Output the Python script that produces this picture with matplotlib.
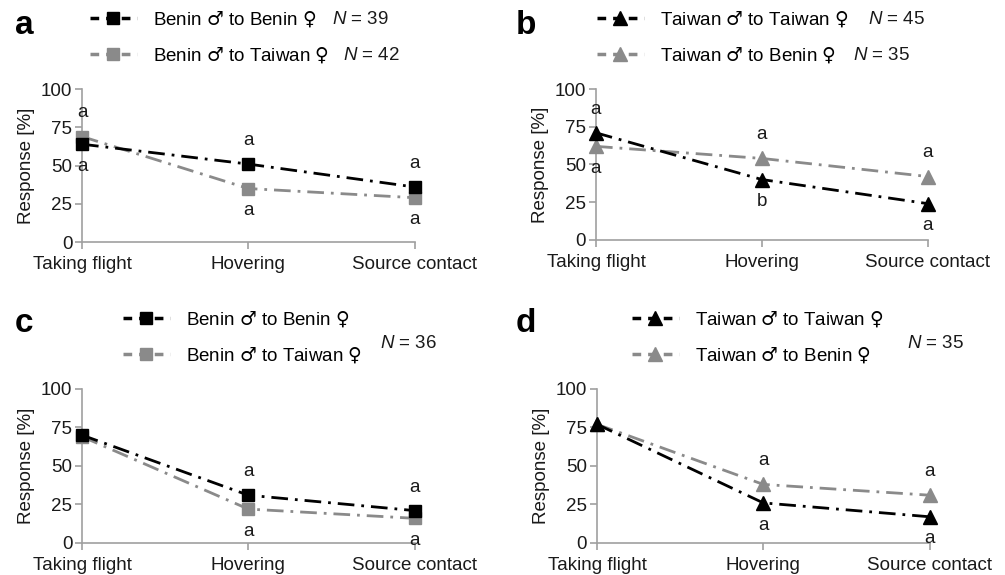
import matplotlib
import numpy as np

matplotlib.use("Agg")
import matplotlib.pyplot as plt  # noqa: E402
from matplotlib.lines import Line2D  # noqa: E402

plt.rcParams["font.family"] = ["Liberation Sans", "DejaVu Sans"]
# sex symbols via mathtext so they come from DejaVu (bigger glyphs), N italic from Liberation
plt.rcParams["mathtext.fontset"] = "custom"
plt.rcParams["mathtext.rm"] = "DejaVu Sans"
plt.rcParams["mathtext.it"] = "Liberation Sans:italic"

STAGES = ["Taking flight", "Hovering", "Source contact"]

# panel a: Benin males
a_home = [64, 51, 36]
a_cross = [69, 35, 29]
# panel b: Taiwan males
b_home = [71, 40, 24]
b_cross = [62, 54, 42]
# panel c: Benin males
c_home = [70, 31, 21]
c_cross = [69, 22, 16]
# panel d: Taiwan males
d_home = [77, 26, 17]
d_cross = [77, 38, 31]

# significance letters (above, below) per stage, None = not shown
a_letters = [("a", "a"), ("a", "a"), ("a", "a")]
b_letters = [("a", "a"), ("a", "b"), ("a", "a")]
c_letters = [(None, None), ("a", "a"), ("a", "a")]
d_letters = [(None, None), ("a", "a"), ("a", "a")]

M, F = "$\u2642$", "$\u2640$"
a_labels = [f"Benin {M} to Benin {F}", f"Benin {M} to Taiwan {F}"]
b_labels = [f"Taiwan {M} to Taiwan {F}", f"Taiwan {M} to Benin {F}"]

BLACK = "#000000"
GREY = "#8a8a8a"
AXIS = "#a0a0a0"
TXT = "#1a1a1a"
FS = 13.5
DASHDOT = (0, (6, 2.5, 1, 2.5))

fig = plt.figure(figsize=(10.05, 5.75), dpi=100)
W, H = 1005, 575

panels = [
    ("a", [0.0816, 0.579, 0.331, 0.266], a_home, a_cross, "s", a_labels, a_letters,
     [("39", 332, 19), ("42", 343, 55)], (90, 37)),
    ("b", [0.593, 0.583, 0.330, 0.262], b_home, b_cross, "^", b_labels, b_letters,
     [("45", 868, 19), ("35", 853, 55)], (597, 37)),
    ("c", [0.0816, 0.0557, 0.331, 0.268], c_home, c_cross, "s", a_labels, c_letters,
     [("36", 380, 344)], (123, 337)),
    ("d", [0.594, 0.0557, 0.331, 0.268], d_home, d_cross, "^", b_labels, d_letters,
     [("35", 907, 344)], (632, 337)),
]

for tag, rect, home, cross, mk, labels, letters, ntexts, leg_xy in panels:
    ax = fig.add_axes(rect)
    x = np.arange(len(STAGES))
    ms = 9 if mk == "s" else 10
    ax.plot(x, cross, color=GREY, lw=2, ls=DASHDOT, marker=mk, ms=ms,
            clip_on=False, zorder=3)
    ax.plot(x, home, color=BLACK, lw=2, ls=DASHDOT, marker=mk, ms=ms,
            clip_on=False, zorder=4)

    ax.set_xlim(0, 2)
    ax.set_ylim(0, 100)
    ax.set_yticks([0, 25, 50, 75, 100])
    ax.set_xticks(x)
    ax.set_xticklabels(STAGES)
    ax.tick_params(axis="both", colors=AXIS, labelcolor=TXT,
                   labelsize=FS, length=5, width=1.2)
    ax.tick_params(axis="x", pad=5)
    ax.tick_params(axis="y", pad=2)
    for side in ("top", "right"):
        ax.spines[side].set_visible(False)
    for side in ("left", "bottom"):
        ax.spines[side].set_color(AXIS)
        ax.spines[side].set_linewidth(1.2)
    ax.set_ylabel("Response [%]", fontsize=FS, color=TXT, labelpad=4)

    for i, (up, down) in enumerate(letters):
        hi = max(home[i], cross[i])
        lo = min(home[i], cross[i])
        if up:
            ax.annotate(up, (i, hi), xytext=(0, 17), textcoords="offset points",
                        ha="center", va="center", fontsize=FS, color=TXT)
        if down:
            ax.annotate(down, (i, lo), xytext=(0, -16), textcoords="offset points",
                        ha="center", va="center", fontsize=FS, color=TXT,
                        annotation_clip=False)

    handles = [
        Line2D([], [], color=BLACK, lw=2.5, ls=(0, (2.5, 2)), marker=mk, ms=ms),
        Line2D([], [], color=GREY, lw=2.5, ls=(0, (2.5, 2)), marker=mk, ms=ms),
    ]
    fig.legend(handles, labels, loc="center left",
               bbox_to_anchor=(leg_xy[0] / W, 1 - leg_xy[1] / H),
               frameon=False, fontsize=FS, handlelength=2.5, handletextpad=0.85,
               labelspacing=0.85, borderpad=0, borderaxespad=0)

    for n, px, py in ntexts:
        fig.text(px / W, 1 - py / H, r"$N$" + " = " + n, fontsize=FS,
                 ha="left", va="center", color=TXT)

    lx = 15 if tag in "ac" else 516
    ly = 25 if tag in "ab" else 324
    fig.text(lx / W, 1 - ly / H, tag, fontsize=24, fontweight="bold",
             ha="left", va="center")

fig.savefig("out.png", dpi=100)
